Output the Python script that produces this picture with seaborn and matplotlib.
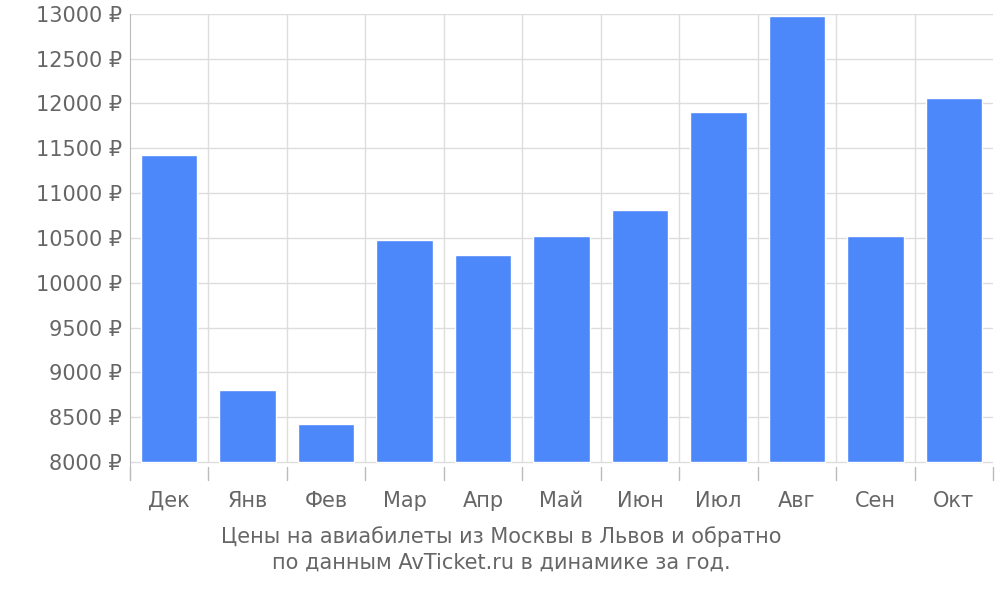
import numpy as np
import pandas as pd
import matplotlib.pyplot as plt
import seaborn as sns

months = ["Дек", "Янв", "Фев", "Мар", "Апр", "Май", "Июн", "Июл", "Авг", "Сен", "Окт"]
prices = [11430, 8800, 8430, 10480, 10310, 10520, 10810, 11900, 12980, 10520, 12060]
base = 8000

df = pd.DataFrame({"month": months, "height": [p - base for p in prices]})

sns.set_style("white")
plt.rcParams["font.family"] = ["DejaVu Sans"]
grey = "#666666"

fig, ax = plt.subplots(figsize=(10, 6), dpi=100)
fig.subplots_adjust(left=0.13, right=0.993, top=0.977, bottom=0.2)

sns.barplot(data=df, x="month", y="height", color="#4d88fb", saturation=1,
            width=0.72, bottom=base, ax=ax, zorder=3)

ax.set_xlim(-0.5, len(months) - 0.5)
ax.set_ylim(7800, 13000)
yt = np.arange(8000, 13001, 500)
ax.set_yticks(yt)
ax.set_yticklabels([f"{v} ₽" for v in yt], color=grey, fontsize=15)
ax.set_xticks(range(len(months)))
ax.set_xticklabels(months, color=grey, fontsize=15)
ax.tick_params(axis="x", length=0, pad=8)
ax.tick_params(axis="y", length=0, pad=6)

# grid lines, limited to the data region
for v in yt:
    ax.plot([-0.5, len(months) - 0.5], [v, v], color="#dddddd", lw=1, zorder=1)
for b in np.arange(0.5, len(months) - 0.5, 1):
    ax.plot([b, b], [8000, 13000], color="#dddddd", lw=1, zorder=1)
for b in np.arange(-0.5, len(months), 1):
    ax.plot([b, b], [7800, 7950], color="#bbbbbb", lw=1, zorder=1, clip_on=False)

for s in ["top", "right", "bottom"]:
    ax.spines[s].set_visible(False)
ax.spines["left"].set_color("#bbbbbb")
ax.set_xlabel("Цены на авиабилеты из Москвы в Львов и обратно\nпо данным AvTicket.ru в динамике за год.",
              color=grey, fontsize=15, labelpad=22, linespacing=1.3)
ax.xaxis.set_label_coords(0.43, -0.1, transform=ax.transAxes)
ax.xaxis.label.set_va("top")
ax.set_ylabel("")

fig.savefig("out.png")
